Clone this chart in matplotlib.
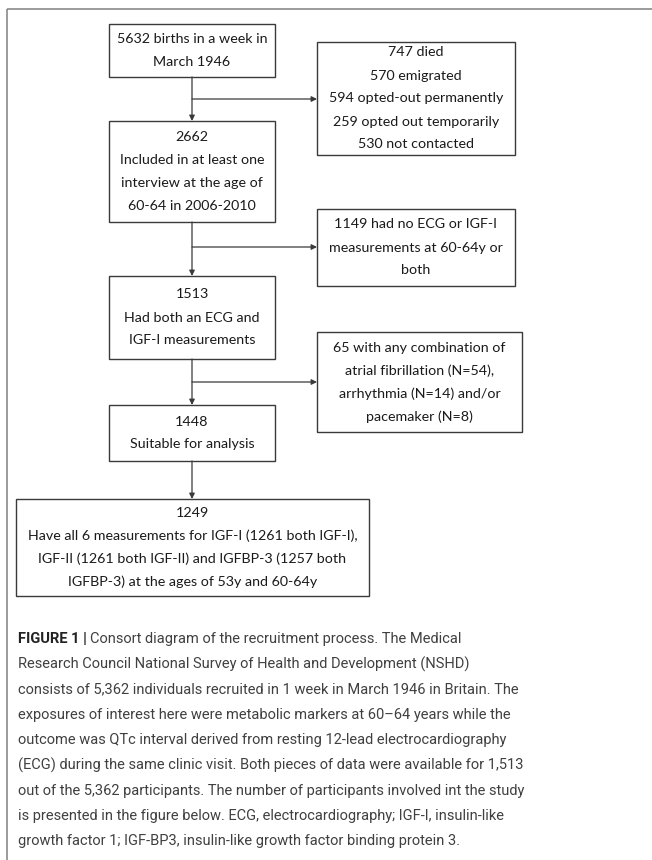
import matplotlib
matplotlib.use("Agg")
import matplotlib.pyplot as plt
from matplotlib.patches import Rectangle

# ---- data ----
main_desc = [
    ["5632 births in a week in", "March 1946"],
    ["2662", "Included in at least one", "interview at the age of", "60-64 in 2006-2010"],
    ["1513", "Had both an ECG and", "IGF-I measurements"],
    ["1448", "Suitable for analysis"],
    ["1249", "Have all 6 measurements for IGF-I (1261 both IGF-I),",
     "IGF-II (1261 both IGF-II) and IGFBP-3 (1257 both",
     "IGFBP-3) at the ages of 53y and 60-64y"],
]
excl_desc = [
    ["747 died", "570 emigrated", "594 opted-out permanently",
     "259 opted out temporarily", "530 not contacted"],
    ["1149 had no ECG or IGF-I", "measurements at 60-64y or", "both"],
    ["65 with any combination of", "atrial fibrillation (N=54),",
     "arrhythmia (N=14) and/or", "pacemaker (N=8)"],
]
caption_head = "FIGURE 1 | "
caption_lines = [
    "Consort diagram of the recruitment process. The Medical",
    "Research Council National Survey of Health and Development (NSHD)",
    "consists of 5,362 individuals recruited in 1 week in March 1946 in Britain. The",
    "exposures of interest here were metabolic markers at 60\u201364 years while the",
    "outcome was QTc interval derived from resting 12-lead electrocardiography",
    "(ECG) during the same clinic visit. Both pieces of data were available for 1,513",
    "out of the 5,362 participants. The number of participants involved int the study",
    "is presented in the figure below. ECG, electrocardiography; IGF-I, insulin-like",
    "growth factor 1; IGF-BP3, insulin-like growth factor binding protein 3.",
]

# ---- layout (pixels) ----
main_boxes = [(109, 24, 275, 77), (109, 121, 275, 222), (109, 276, 275, 359),
              (109, 405, 275, 461), (16, 499, 369, 596)]
excl_boxes = [(317, 42, 515, 155), (317, 209, 515, 286), (317, 332, 522, 432)]
branch_y = [99, 247, 382]
spine_x = 192
line_step = 23

box_font = ["Lato", "DejaVu Sans"]
cap_font = ["Roboto", "DejaVu Sans"]
edge = "#3a3a3a"

fig = plt.figure(figsize=(6.52, 8.60), dpi=100)
ax = fig.add_axes([0, 0, 1, 1])
ax.set_xlim(0, 652)
ax.set_ylim(860, 0)
ax.axis("off")

# outer frame
ax.add_patch(Rectangle((7, 9), 700, 900, fill=False, edgecolor="#8a8a8a", lw=1.2))


def draw_box(b, lines):
    x0, y0, x1, y1 = b
    ax.add_patch(Rectangle((x0, y0), x1 - x0, y1 - y0, fill=False,
                           edgecolor=edge, lw=1.0))
    cx, cy = (x0 + x1) / 2, (y0 + y1) / 2
    n = len(lines)
    for i, s in enumerate(lines):
        ax.text(cx, cy + (i - (n - 1) / 2) * line_step, s, ha="center", va="center",
                fontsize=10.3, family=box_font, color="#1a1a1a")


for b, lines in zip(main_boxes, main_desc):
    draw_box(b, lines)
for b, lines in zip(excl_boxes, excl_desc):
    draw_box(b, lines)

arrow = dict(arrowstyle="-|>", color=edge, lw=0.9, mutation_scale=8,
             shrinkA=0, shrinkB=0)
for a, b in zip(main_boxes[:-1], main_boxes[1:]):
    ax.annotate("", xy=(spine_x, b[1]), xytext=(spine_x, a[3]), arrowprops=arrow)
for y, b in zip(branch_y, excl_boxes):
    ax.annotate("", xy=(b[0], y), xytext=(spine_x, y), arrowprops=arrow)

# caption
cap_x, cap_y, cap_step, cap_fs = 18, 639, 25.3, 10.5
head = ax.text(cap_x, cap_y, caption_head, fontsize=cap_fs, family=cap_font,
               weight="bold", color="#222222", va="center", ha="left")
ax.annotate(caption_lines[0], xy=(1, 0.5), xycoords=head, va="center", ha="left",
            fontsize=cap_fs, family=cap_font, color="#404040")
for i, s in enumerate(caption_lines[1:], start=1):
    ax.text(cap_x, cap_y + i * cap_step, s, fontsize=cap_fs, family=cap_font,
            color="#404040", va="center", ha="left")

fig.savefig("out.png", dpi=100)
